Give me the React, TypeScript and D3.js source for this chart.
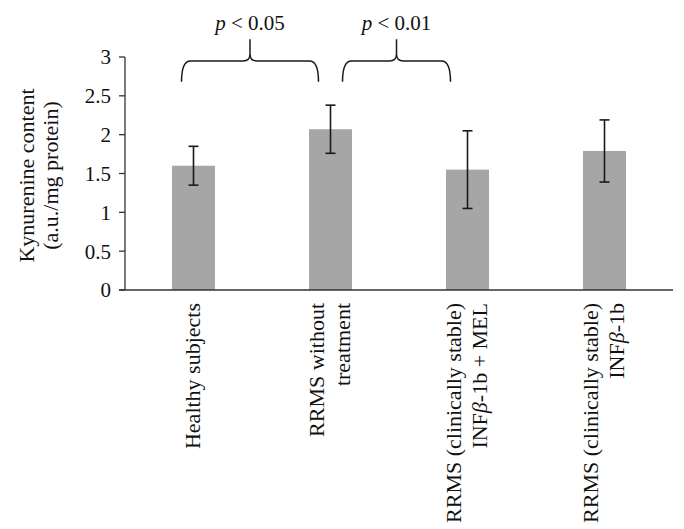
import React from "react";
import * as d3 from "d3";

const categories = ["Healthy subjects", "RRMS without treatment", "RRMS INF+MEL", "RRMS INF"];
const labelLines: string[][] = [
  ["Healthy subjects"],
  ["RRMS without", "treatment"],
  ["RRMS (clinically stable)", "INF|β|-1b + MEL"],
  ["RRMS (clinically stable)", "INF|β|-1b"],
];
const means = [1.6, 2.07, 1.55, 1.79];
const errors = [0.25, 0.31, 0.5, 0.4];
const yTicks = [0, 0.5, 1, 1.5, 2, 2.5, 3];
const comparisons = [
  { from: 0, to: 1, label: "0.05", fromOff: -12, toOff: -12 },
  { from: 1, to: 2, label: "0.01", fromOff: 12, toOff: -17 },
];

const W = 684, H = 529;
const M = { left: 125, right: 673, top: 57, bottom: 290 };
const FONT = "'Liberation Serif', 'Times New Roman', serif";

export default function App() {
  const x = d3.scaleBand<string>().domain(categories).range([M.left, M.right]).padding(0);
  const y = d3.scaleLinear().domain([0, 3]).range([M.bottom, M.top]);
  const bw = 43;
  const cx = (i: number) => (x(categories[i]) as number) + x.bandwidth() / 2;

  const bracePath = (x1: number, x2: number) => {
    const yh = y(2.95), yb = y(2.68), yp = y(3.23);
    const xm = (x1 + x2) / 2;
    const r = 9;
    return [
      `M${x1},${yb} Q${x1},${yh} ${x1 + r},${yh} L${xm - 7},${yh} Q${xm},${yh} ${xm},${yh - 7}`,
      `L${xm},${yp}`,
      `M${xm},${yh - 7} Q${xm},${yh} ${xm + 7},${yh} L${x2 - r},${yh} Q${x2},${yh} ${x2},${yb}`,
    ].join(" ");
  };

  const renderLine = (s: string) => {
    const parts = s.split("|");
    return parts.map((p, k) => (
      <tspan key={k} fontStyle={k === 1 ? "italic" : "normal"}>{p}</tspan>
    ));
  };

  return (
    <svg width={W} height={H} style={{ position: "absolute", left: 0, top: 0, background: "#fff" }} fontFamily={FONT}>
      {/* bars */}
      {means.map((m, i) => (
        <rect key={i} x={cx(i) - bw / 2} y={y(m)} width={bw} height={y(0) - y(m)} fill="#a6a6a6" />
      ))}
      {/* error bars */}
      {means.map((m, i) => (
        <g key={i} stroke="#1a1a1a" strokeWidth={1.6}>
          <line x1={cx(i)} x2={cx(i)} y1={y(m + errors[i])} y2={y(m - errors[i])} />
          <line x1={cx(i) - 5} x2={cx(i) + 5} y1={y(m + errors[i])} y2={y(m + errors[i])} />
          <line x1={cx(i) - 5} x2={cx(i) + 5} y1={y(m - errors[i])} y2={y(m - errors[i])} />
        </g>
      ))}
      {/* y axis */}
      <line x1={M.left} x2={M.left} y1={y(3)} y2={y(0)} stroke="#333" strokeWidth={1.3} />
      {yTicks.map((t) => (
        <g key={t}>
          <line x1={M.left - 6} x2={M.left} y1={y(t)} y2={y(t)} stroke="#333" strokeWidth={1.3} />
          <text x={M.left - 14} y={y(t)} dy="0.35em" textAnchor="end" fontSize={21} fill="#111">{t}</text>
        </g>
      ))}
      {/* x axis */}
      <line x1={M.left - 6} x2={M.right} y1={y(0)} y2={y(0)} stroke="#333" strokeWidth={1.6} />
      {/* x labels */}
      {labelLines.map((lines, i) => {
        const n = lines.length;
        return (
          <g key={i} transform={`translate(${cx(i)},${M.bottom + 13}) rotate(-90)`}>
            {lines.map((ln, j) => (
              <text key={j} x={0} y={(j - (n - 1) / 2) * 26 + 6} textAnchor="end" fontSize={22} fill="#111">
                {renderLine(ln)}
              </text>
            ))}
          </g>
        );
      })}
      {/* y label */}
      <g transform={`translate(0,${(M.top + M.bottom) / 2 + 2}) rotate(-90)`}>
        <text x={0} y={34} textAnchor="middle" fontSize={22} fill="#111">Kynurenine content</text>
        <text x={0} y={58} textAnchor="middle" fontSize={22} fill="#111">(a.u./mg protein)</text>
      </g>
      {/* significance brackets */}
      {comparisons.map((c, k) => {
        const x1 = cx(c.from) + c.fromOff;
        const x2 = cx(c.to) + c.toOff;
        return (
          <g key={k}>
            <path d={bracePath(x1, x2)} fill="none" stroke="#1a1a1a" strokeWidth={1.5} />
            <text x={(x1 + x2) / 2} y={y(3.35)} textAnchor="middle" fontSize={21} fill="#111">
              <tspan fontStyle="italic">p</tspan>
              <tspan> {"<"} {c.label}</tspan>
            </text>
          </g>
        );
      })}
    </svg>
  );
}
